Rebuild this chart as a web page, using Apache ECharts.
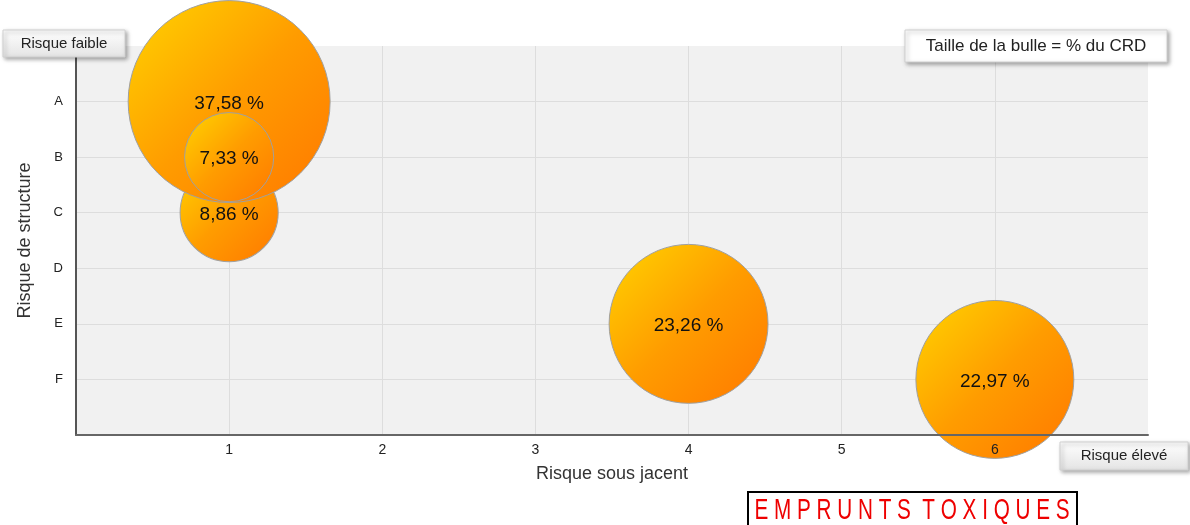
<!DOCTYPE html>
<html><head><meta charset="utf-8">
<script src="https://cdn.jsdelivr.net/npm/echarts@6/dist/echarts.min.js"></script>
<style>html,body{margin:0;padding:0;background:#fff}#c{width:1190px;height:525px}</style>
</head><body><div id="c"></div>
<script>
// Data
const structureLabels = ['A', 'B', 'C', 'D', 'E', 'F'];
const xTicks = [1, 2, 3, 4, 5, 6];
// draw order: C, A, B, E, F
const bubbleX = [1, 1, 1, 4, 6];
const bubbleY = ['C', 'A', 'B', 'E', 'F'];
const bubbleValue = [8.86, 37.58, 7.33, 23.26, 22.97];

const data = bubbleX.map((x, i) => [x, structureLabels.indexOf(bubbleY[i]) + 1, bubbleValue[i]]);
const FONT = '"Liberation Sans", Arial, sans-serif';
const chart = echarts.init(document.getElementById('c'), null, {renderer: 'canvas'});

function button(x, y, w, h, text, fs, plain) {
  return {
    type: 'group', x: x, y: y, z: 20,
    children: [
      {type: 'rect', z: 20, shape: {x: 0, y: 0, width: w, height: h},
       style: {fill: plain ? '#ffffff' : new echarts.graphic.LinearGradient(0, 0, 0, 1, [{offset: 0, color: '#ffffff'}, {offset: 1, color: '#e4e4e4'}]),
               stroke: '#d0d0d0', lineWidth: 1, shadowBlur: 4, shadowOffsetX: 2, shadowOffsetY: 2, shadowColor: 'rgba(0,0,0,0.35)'}},
      {type: 'text', z: 21, x: w / 2, y: h / 2,
       style: {text: text, fill: '#222', font: fs + 'px ' + FONT, align: 'center', verticalAlign: 'middle'}}
    ]
  };
}

chart.setOption({
  animation: false,
  grid: {left: 76, right: 42, top: 46, bottom: 90, show: true, backgroundColor: '#f1f1f1', borderWidth: 0},
  xAxis: [{
    type: 'value', min: 0, max: 7, interval: 1, z: 0,
    name: 'Risque sous jacent', nameLocation: 'middle', nameGap: 30,
    nameTextStyle: {fontSize: 18, color: '#333', fontFamily: FONT},
    axisLine: {show: false}, axisTick: {show: false}, axisLabel: {show: false},
    splitLine: {show: true, showMinLine: false, showMaxLine: false, lineStyle: {color: '#dddddd', width: 1}}
  }, {
    type: 'value', min: 0, max: 7, interval: 1, z: 5, position: 'bottom',
    axisLine: {show: true, onZero: false, lineStyle: {color: '#666', width: 2}},
    axisTick: {show: false},
    axisLabel: {color: '#222', fontSize: 14, fontFamily: FONT, margin: 8,
      formatter: v => xTicks.indexOf(v) >= 0 ? String(v) : ''},
    splitLine: {show: false}
  }],
  yAxis: {
    type: 'value', min: 0, max: 7, interval: 1, inverse: true,
    name: 'Risque de structure', nameLocation: 'middle', nameGap: 42, nameRotate: 90,
    nameTextStyle: {fontSize: 18, color: '#333', fontFamily: FONT},
    axisLine: {show: true, onZero: false, lineStyle: {color: '#555', width: 2}},
    axisTick: {show: false},
    axisLabel: {color: '#222', fontSize: 13, fontFamily: FONT, margin: 13,
      formatter: v => (v >= 1 && v <= structureLabels.length) ? structureLabels[v - 1] : ''},
    splitLine: {show: true, showMinLine: false, showMaxLine: false, lineStyle: {color: '#dddddd', width: 1}}
  },
  series: [{
    type: 'scatter', xAxisIndex: 0, clip: false, z: 2,
    data: data,
    symbolSize: d => 32.95 * Math.sqrt(d[2]),
    itemStyle: {
      color: new echarts.graphic.LinearGradient(0, 0, 1, 1, [
        {offset: 0, color: '#ffd400'}, {offset: 0.5, color: '#ff9c00'}, {offset: 1, color: '#ff7800'}]),
      borderColor: '#a0a0a0', borderWidth: 1, opacity: 1
    },
    label: {show: true, position: 'inside', color: '#111', fontSize: 19, fontFamily: FONT, offset: [0, 2],
      formatter: p => p.value[2].toFixed(2).replace('.', ',') + ' %'},
    emphasis: {disabled: true}
  }],
  graphic: [
    button(3, 30, 122, 27, 'Risque faible', 15, false),
    button(1060, 442, 128, 28, 'Risque élevé', 15, false),
    button(905, 30, 262, 32, 'Taille de la bulle = % du CRD', 17, true),
    {type: 'group', x: 748, y: 492, z: 20, children: [
      {type: 'rect', z: 20, shape: {x: 0, y: 0, width: 329, height: 40}, style: {fill: '#fff', stroke: '#000', lineWidth: 2}},
      {type: 'text', z: 21, x: 164, y: 19, scaleX: 0.69, style: {text: 'E M P R U N T S  T O X I Q U E S', fill: '#ee0000',
        font: '30px "Liberation Sans", sans-serif', align: 'center', verticalAlign: 'middle'}}
    ]}
  ]
});
</script></body></html>
